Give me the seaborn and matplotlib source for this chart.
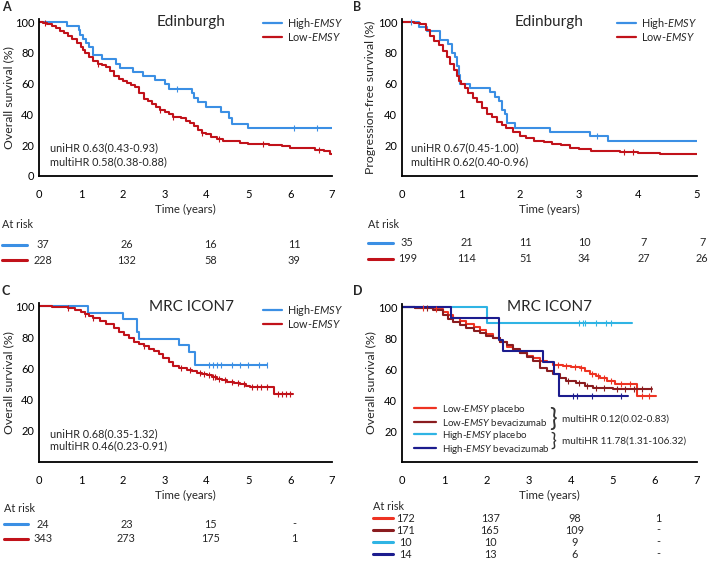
import numpy as np
import pandas as pd
import matplotlib
matplotlib.use('Agg')
import matplotlib.pyplot as plt
import matplotlib.transforms as mtransforms
from matplotlib.lines import Line2D
import seaborn as sns

# A - Edinburgh, overall survival
a_high_t = [0, 0.66, 0.95, 0.98, 1.05, 1.12, 1.2, 1.28, 1.5, 1.85, 1.93, 2.25, 2.48, 2.78, 3.02, 3.1,
            3.65, 3.7, 3.8, 4.0, 4.35, 4.55, 4.6, 5.0, 7.0]
a_high_s = [100, 97.3, 94.6, 91.9, 89.2, 86.5, 83.8, 78.4, 75.7, 73.0, 70.3, 67.6, 64.9, 62.2, 59.5, 56.8,
            53.9, 51.0, 48.0, 45.0, 41.5, 37.5, 34.0, 31.2, 31.2]
a_high_cens = [3.3, 6.1, 6.65]
a_low_t = [0, 0.1, 0.2, 0.3, 0.4, 0.5, 0.6, 0.7, 0.8, 0.9, 1.0, 1.05, 1.1, 1.2, 1.3, 1.4, 1.5, 1.6, 1.7,
           1.8, 1.9, 2.0, 2.1, 2.2, 2.3, 2.4, 2.5, 2.6, 2.7, 2.8, 2.9, 3.0, 3.1, 3.2, 3.4, 3.5, 3.6, 3.7,
           3.8, 3.9, 4.0, 4.1, 4.25, 4.4, 4.6, 4.8, 5.0, 5.3, 5.5, 5.8, 6.0, 6.3, 6.6, 6.8, 6.95, 7.0]
a_low_s = [100, 99.5, 98.5, 97.5, 96, 94.5, 93, 91, 89, 86.5, 84, 82, 80, 77, 75, 73, 72, 70.5, 68,
           65, 63, 61.5, 60.5, 59, 57.5, 54, 50, 48.5, 47, 45, 43, 41.5, 40, 38.5, 37.5, 35.5, 34.5, 32.5,
           30, 28, 27, 25.5, 24, 23, 22.5, 21.5, 21, 20.5, 20, 19.5, 18.5, 18, 17, 16, 14, 14]
a_low_cens = [0.15, 1.4, 2.9, 3.2, 3.9, 4.3, 5.35, 6.7]
a_risk_t = [0, 2, 4, 6]
a_risk_high = ['37', '26', '16', '11']
a_risk_low = ['228', '132', '58', '39']

# B - Edinburgh, progression-free survival
b_high_t = [0, 0.28, 0.42, 0.64, 0.78, 0.85, 0.9, 0.94, 0.97, 0.98, 1.15, 1.49, 1.58, 1.65, 1.7, 1.74,
            1.78, 1.92, 2.51, 3.18, 3.49, 5.0]
b_high_s = [100, 97.1, 94.3, 88.6, 85.7, 80.0, 77.1, 71.4, 65.7, 60.0, 57.1, 54.3, 51.4, 48.6, 42.9, 40.0,
            34.3, 31.4, 28.6, 25.7, 22.5, 22.5]
b_high_cens = [0.15, 3.3]
b_low_t = [0, 0.2, 0.3, 0.4, 0.47, 0.55, 0.62, 0.7, 0.76, 0.82, 0.88, 0.93, 0.97, 1.0, 1.06, 1.12, 1.2,
           1.27, 1.35, 1.44, 1.52, 1.61, 1.7, 1.77, 1.88, 2.0, 2.1, 2.23, 2.4, 2.55, 2.7, 2.85, 3.0, 3.2,
           3.5, 3.7, 4.0, 4.38, 5.0]
b_low_s = [100, 99.5, 98.5, 95, 91, 88, 85, 81, 77.5, 73, 69, 65, 62, 59.5, 57, 54, 51,
           48, 44, 40.5, 38.5, 35, 33, 31, 28.5, 26, 24.5, 23, 22, 21, 20, 18.5, 17.5, 16.3,
           16, 15.5, 15, 14.3, 14.3]
b_low_cens = [3.76, 3.92]
b_risk_t = [0, 1, 2, 3, 4, 5]
b_risk_high = ['35', '21', '11', '10', '7', '7']
b_risk_low = ['199', '114', '51', '34', '27', '26']

# C - MRC ICON7, overall survival
c_high_t = [0, 1.16, 2.0, 2.34, 2.4, 3.35, 3.59, 3.72, 5.45]
c_high_s = [100, 95.8, 91.7, 83.3, 79.2, 75.0, 70.8, 62.5, 62.5]
c_high_cens = [4.05, 4.15, 4.25, 4.35, 4.6, 4.8, 5.0, 5.25, 5.45]
c_low_t = [0, 0.3, 0.5, 0.7, 0.85, 1.0, 1.1, 1.2, 1.3, 1.46, 1.6, 1.78, 1.9, 2.02, 2.15, 2.26, 2.4,
           2.5, 2.62, 2.74, 2.86, 2.97, 3.1, 3.21, 3.35, 3.53, 3.65, 3.77, 3.9, 4.01, 4.13, 4.25, 4.37,
           4.49, 4.65, 4.81, 4.95, 5.05, 5.61, 6.08]
c_low_s = [100, 99.6, 99.3, 98.5, 97.5, 96.2, 94.8, 93.5, 92.5, 90.2, 88.5, 85.8, 83.5, 81.5, 79.5, 77.3, 75.5,
           74.2, 72.5, 71, 69, 66.8, 64, 61.5, 60.5, 59.3, 58.2, 57.2, 56.3, 55.5, 54.3, 53, 52.3,
           51.5, 50.5, 49.8, 49, 48.1, 43.9, 43.9]
c_low_cens = [0.7, 1.1, 1.3, 2.5, 3.4, 3.6, 3.85, 3.95, 4.05, 4.15, 4.2, 4.3, 4.45, 4.6, 4.75, 4.9,
              5.1, 5.2, 5.3, 5.45, 5.7, 5.8, 5.9, 6.0]
c_risk_t = [0, 2, 4, 6]
c_risk_high = ['24', '23', '15', '-']
c_risk_low = ['343', '273', '175', '1']

# D - MRC ICON7 by treatment arm
d_lowpl_t = [0, 0.3, 0.74, 0.97, 1.1, 1.22, 1.38, 1.53, 1.7, 1.85, 2.0, 2.17, 2.32, 2.48, 2.64, 2.8,
             2.96, 3.12, 3.27, 3.43, 3.59, 3.82, 4.0, 4.22, 4.35, 4.46, 4.6, 4.7, 4.86, 5.05, 5.57, 6.02]
d_lowpl_s = [100, 99.4, 98.9, 96.8, 95, 93.2, 91.3, 89.4, 87.2, 85, 82.5, 79.8, 77.2, 74.5, 72.4, 70.3,
             68.6, 67, 65.5, 64.3, 62.9, 62.2, 61.5, 60.7, 58.7, 56.7, 55.5, 54.3, 52.2, 50.3, 42.8, 42.8]
d_lowpl_cens = [0.5, 0.8, 3.7, 3.9, 4.1, 4.25, 4.5, 4.65, 4.8, 4.95, 5.2, 5.4, 5.7, 5.85]
d_lowbev_t = [0, 0.3, 0.74, 0.97, 1.1, 1.22, 1.38, 1.53, 1.7, 1.85, 2.0, 2.17, 2.32, 2.48, 2.64, 2.8,
              2.96, 3.12, 3.27, 3.43, 3.59, 3.75, 3.9, 4.14, 4.35, 4.53, 5.0, 5.93]
d_lowbev_s = [100, 99.5, 98.3, 94.7, 92.5, 90.4, 88.3, 86.2, 84.8, 83.4, 81.6, 79.8, 77.7, 75.6, 73, 70.3,
              67.6, 65, 61, 58.6, 56.5, 54.3, 52.2, 50.7, 49.2, 48, 47.3, 47.3]
d_lowbev_cens = [0.6, 3.95, 4.2, 4.4, 4.6, 4.8, 5.1, 5.3, 5.5, 5.7, 5.9]
d_highpl_t = [0, 2.02, 5.45]
d_highpl_s = [100, 90.0, 90.0]
d_highpl_cens = [4.2, 4.3, 4.35, 4.6, 4.85, 4.95]
d_highbev_t = [0, 1.16, 2.3, 2.4, 3.35, 3.6, 3.72, 5.37]
d_highbev_s = [100, 92.9, 78.6, 71.4, 64.3, 57.1, 42.9, 42.9]
d_highbev_cens = [4.05, 4.15, 4.5, 5.2]
d_risk_t = [0, 2, 4, 6]
d_risk_lowpl = ['172', '137', '98', '1']
d_risk_lowbev = ['171', '165', '109', '-']
d_risk_highpl = ['10', '10', '9', '-']
d_risk_highbev = ['14', '13', '6', '-']

BLUE = '#3b8fe4'
RED = '#c1121a'
D_COLORS = ['#ee3322', '#8a1c1f', '#2fb4e4', '#1c1c8e']
FS = 7.8

sns.set_style('white')
plt.rcParams['font.family'] = ['Lato', 'DejaVu Sans']
plt.rcParams['mathtext.fontset'] = 'custom'
plt.rcParams['mathtext.it'] = 'Lato:italic'
plt.rcParams['mathtext.rm'] = 'Lato'

W, H = 709, 562
fig = plt.figure(figsize=(W / 100, H / 100), dpi=100)


def add_ax(left, top, right, bottom):
    return fig.add_axes([left / W, 1 - bottom / H, (right - left) / W, (bottom - top) / H])


def surv_at(t, s, c):
    idx = np.searchsorted(t, c, side='right') - 1
    return np.asarray(s)[idx]


def draw_curves(ax, curves, colors, lw=1.5):
    frames = []
    for name, (t, s, cens) in curves.items():
        frames.append(pd.DataFrame({'time': t, 'surv': s, 'group': name}))
    df = pd.concat(frames, ignore_index=True)
    sns.lineplot(data=df, x='time', y='surv', hue='group', palette=colors,
                 hue_order=list(curves.keys()), drawstyle='steps-post', estimator=None,
                 sort=False, linewidth=lw, legend=False, ax=ax)
    # censored patients as small ticks on the curve
    for (name, (t, s, cens)), col in zip(curves.items(), colors):
        ax.plot(cens, surv_at(t, s, cens), ls='', marker='|', ms=4, mew=0.8, color=col)


def style_ax(ax, xmax, ylabel, label_x, zero_label=True):
    ax.set_xlim(0, xmax)
    ax.set_ylim(0, 102)
    ax.set_xticks(range(0, xmax + 1))
    ax.set_yticks([0, 20, 40, 60, 80, 100] if zero_label else [20, 40, 60, 80, 100])
    for side in ['top', 'right']:
        ax.spines[side].set_visible(False)
    for side in ['left', 'bottom']:
        ax.spines[side].set_linewidth(1.3)
        ax.spines[side].set_color('black')
    ax.tick_params(direction='in', length=3, width=1, labelsize=8, colors='black')
    ax.tick_params(axis='x', pad=9)
    ax.set_ylabel(ylabel, fontsize=8.8)
    ax.yaxis.set_label_coords(label_x, 0.5)
    ax.set_xlabel('Time (years)', fontsize=8.3, labelpad=3)


def risk_table(ax, x_at, y_at, rows, times, colors, sw):
    trans = mtransforms.blended_transform_factory(ax.transData, fig.transFigure)
    fig.text(x_at / W, 1 - y_at / H, 'At risk', fontsize=FS, va='center', ha='left')
    for (py, vals), col in zip(rows, colors):
        fig.add_artist(Line2D([sw[0] / W, sw[1] / W], [1 - py / H, 1 - py / H],
                              transform=fig.transFigure, color=col, lw=2.2))
        for tt, v in zip(times, vals):
            ax.text(tt + 0.09, 1 - py / H, v, transform=trans, fontsize=FS, ha='center', va='center')


def two_legend(ax, colors, anchor):
    handles = [Line2D([], [], color=c, lw=1.6) for c in colors]
    ax.legend(handles, ['High-$\\mathit{EMSY}$', 'Low-$\\mathit{EMSY}$'], loc='upper left',
              bbox_to_anchor=anchor, frameon=False, fontsize=FS, handlelength=1.75,
              handletextpad=0.5, labelspacing=0.0, borderaxespad=0, borderpad=0)


# ---- A
axA = add_ax(39, 19, 332, 176)
draw_curves(axA, {'High': (a_high_t, a_high_s, a_high_cens), 'Low': (a_low_t, a_low_s, a_low_cens)},
            [BLUE, RED])
style_ax(axA, 7, 'Overall survival (%)', -0.085)
axA.set_title('Edinburgh', fontsize=11, x=0.52, y=0.9)
two_legend(axA, [BLUE, RED], (0.763, 1.02))
axA.text(0.26, 18.5, 'uniHR 0.63(0.43-0.93)', fontsize=FS, va='center')
axA.text(0.26, 9.5, 'multiHR 0.58(0.38-0.88)', fontsize=FS, va='center')
risk_table(axA, 2, 225, [(245, a_risk_high), (260, a_risk_low)], a_risk_t, [BLUE, RED], (2, 27))

# ---- B
axB = add_ax(402, 19, 697, 176)
draw_curves(axB, {'High': (b_high_t, b_high_s, b_high_cens), 'Low': (b_low_t, b_low_s, b_low_cens)},
            [BLUE, RED])
style_ax(axB, 5, 'Progression-free survival (%)', -0.088, zero_label=False)
axB.set_title('Edinburgh', fontsize=11, x=0.5, y=0.9)
two_legend(axB, [BLUE, RED], (0.728, 1.02))
axB.text(0.16, 18.5, 'uniHR 0.67(0.45-1.00)', fontsize=FS, va='center')
axB.text(0.16, 9.5, 'multiHR 0.62(0.40-0.96)', fontsize=FS, va='center')
risk_table(axB, 368, 224, [(243, b_risk_high), (259, b_risk_low)], b_risk_t, [BLUE, RED], (368, 393))

# ---- C
axC = add_ax(39, 303, 332, 462)
draw_curves(axC, {'High': (c_high_t, c_high_s, c_high_cens), 'Low': (c_low_t, c_low_s, c_low_cens)},
            [BLUE, RED])
style_ax(axC, 7, 'Overall survival (%)', -0.085, zero_label=False)
axC.set_title('MRC ICON7', fontsize=11, x=0.52, y=0.9)
two_legend(axC, [BLUE, RED], (0.763, 1.0))
axC.text(0.26, 17.8, 'uniHR 0.68(0.35-1.32)', fontsize=FS, va='center')
axC.text(0.26, 10.5, 'multiHR 0.46(0.23-0.91)', fontsize=FS, va='center')
risk_table(axC, 4, 509, [(524, c_risk_high), (539, c_risk_low)], c_risk_t, [BLUE, RED], (4, 28))

# ---- D
axD = add_ax(402, 304, 697, 462)
draw_curves(axD, {'Low-pl': (d_lowpl_t, d_lowpl_s, d_lowpl_cens),
                  'Low-bev': (d_lowbev_t, d_lowbev_s, d_lowbev_cens),
                  'High-pl': (d_highpl_t, d_highpl_s, d_highpl_cens),
                  'High-bev': (d_highbev_t, d_highbev_s, d_highbev_cens)}, D_COLORS)
style_ax(axD, 7, 'Overall survival (%)', -0.088, zero_label=False)
axD.set_title('MRC ICON7', fontsize=11, x=0.5, y=0.9)
d_handles = [Line2D([], [], color=c, lw=1.6) for c in D_COLORS]
axD.legend(d_handles, ['Low-$\\mathit{EMSY}$ placebo', 'Low-$\\mathit{EMSY}$ bevacizumab',
                       'High-$\\mathit{EMSY}$ placebo', 'High-$\\mathit{EMSY}$ bevacizumab'],
           loc='lower left', bbox_to_anchor=(0.04, 0.04), frameon=False, fontsize=7.0,
           handlelength=2.3, handletextpad=0.55, labelspacing=0.1, borderaxespad=0, borderpad=0)
axD.text(3.58, 28.0, '}', fontsize=18, ha='center', va='center', family='Lato', color='#333333')
axD.text(3.58, 13.8, '}', fontsize=14, ha='center', va='center', family='Lato', color='#333333')
axD.text(3.8, 27.6, 'multiHR 0.12(0.02-0.83)', fontsize=7.2, va='center')
axD.text(3.8, 13.4, 'multiHR 11.78(1.31-106.32)', fontsize=7.2, va='center')
risk_table(axD, 373, 507, [(518, d_risk_lowpl), (530, d_risk_lowbev), (542, d_risk_highpl),
                           (554, d_risk_highbev)], d_risk_t, D_COLORS, (373, 393))

for ax, lab, (px, py) in zip([axA, axB, axC, axD], 'ABCD', [(2, 7), (353, 7), (2, 291), (353, 291)]):
    fig.text(px / W, 1 - py / H, lab, fontsize=9, fontweight='bold', va='center', ha='left')

fig.savefig('out.png', dpi=100)
